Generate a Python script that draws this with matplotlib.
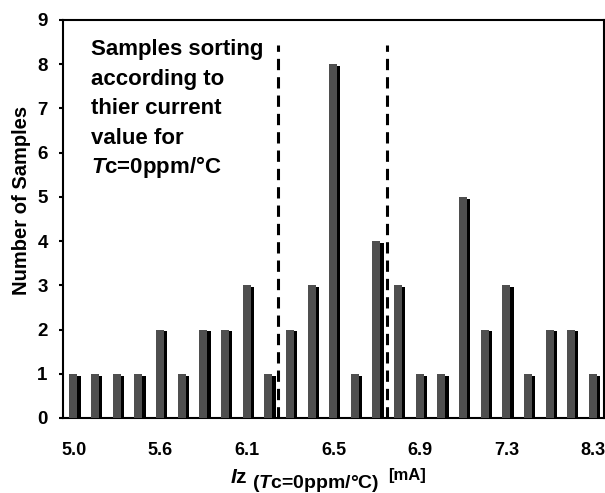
import matplotlib
matplotlib.use('Agg')
from matplotlib import pyplot as plt
import numpy as np

# number of samples in each current bin
counts = [1, 1, 1, 1, 2, 1, 2, 2, 3, 1, 2, 3, 8, 1, 4, 3, 1, 1, 5, 2, 3, 1, 2, 2, 1]
tick_idx = [0, 4, 8, 12, 16, 20, 24]
tick_labels = ['5.0', '5.6', '6.1', '6.5', '6.9', '7.3', '8.3']
y_ticks = list(range(10))
cut_positions = [9.45, 14.45]
cut_top = 8.43
note_lines = ['Samples sorting', 'according to', 'thier current', 'value for',
              '$\\mathit{T}$c=0ppm/°C']

plt.rcParams['font.family'] = ['Liberation Sans', 'DejaVu Sans']
plt.rcParams['font.weight'] = 'bold'
plt.rcParams['mathtext.fontset'] = 'custom'
plt.rcParams['mathtext.rm'] = 'Liberation Sans:bold'
plt.rcParams['mathtext.it'] = 'Liberation Sans:italic:bold'
plt.rcParams['mathtext.bf'] = 'Liberation Sans:bold'

W, H = 605, 493
fig = plt.figure(figsize=(W / 100, H / 100), dpi=100)


def px(x, y):
    # pixel position (from top-left) -> figure fraction
    return x / W, 1 - y / H


ax = fig.add_axes([63 / W, 1 - 418 / H, (604 - 63) / W, (418 - 20) / H])

x = np.arange(len(counts))
vals = np.array(counts, dtype=float)
# dark shadow on the right, grey bar on top
ax.bar(x - 0.05, vals - 0.04, width=0.37, align='edge', color='black', zorder=2)
ax.bar(x - 0.2, vals, width=0.37, align='edge', color='#4f4f4f', zorder=3)

ax.vlines(cut_positions, 0, cut_top, colors='black', linestyles=(0, (3.7, 2.3)),
          linewidth=2.2, zorder=4)

ax.set_xlim(-0.5, len(counts) - 0.5)
ax.set_ylim(0, 9)
ax.set_yticks(y_ticks)
ax.set_xticks(tick_idx)
ax.set_xticklabels(tick_labels)
ax.tick_params(axis='x', length=0, pad=17, labelsize=13)
ax.tick_params(axis='y', direction='out', length=3, width=1.5, pad=8, labelsize=13.5)
for s in ax.spines.values():
    s.set_linewidth(1.5)

# annotation, one line at a time (baselines ~29.5 px apart)
for i, line in enumerate(note_lines):
    fig.text(*px(91, 55 + 29.5 * i), line, fontsize=16, va='baseline', ha='left')

fig.text(*px(22, 200), 'Number of Samples', rotation=90, fontsize=14.5, ha='center', va='center')

fig.text(*px(230, 483), '$\\mathit{I}$z', fontsize=15, va='baseline', ha='left')
fig.text(*px(252, 488), '($\\mathit{T}$c=0ppm/°C)', fontsize=14, va='baseline', ha='left')
fig.text(*px(388, 480), '[mA]', fontsize=12, va='baseline', ha='left')

fig.savefig('out.png', dpi=100)
